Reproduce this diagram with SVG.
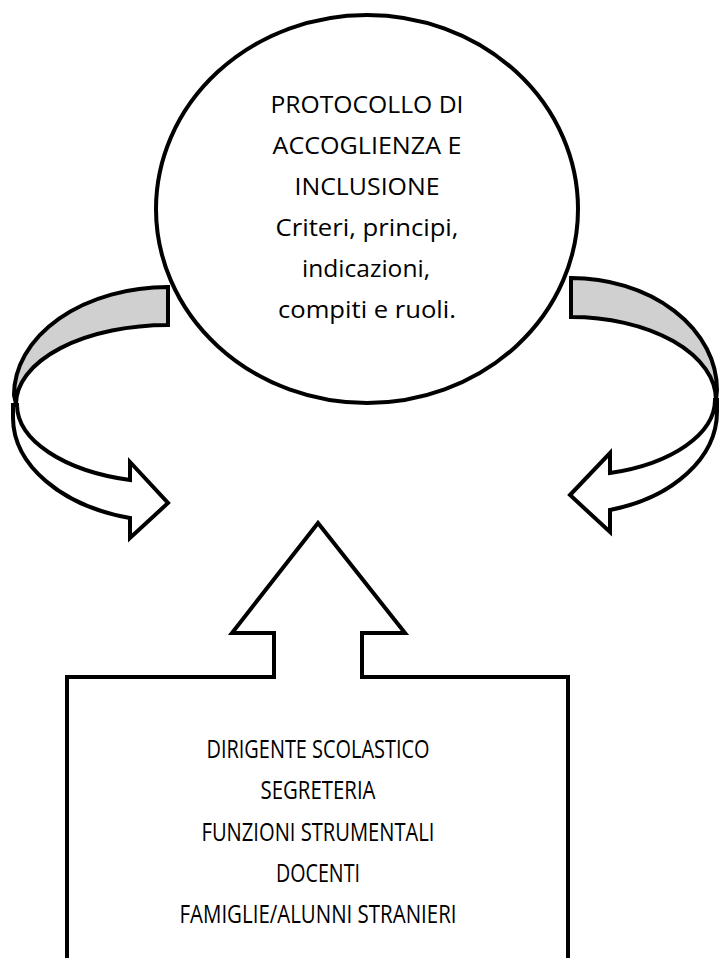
<svg xmlns="http://www.w3.org/2000/svg" width="720" height="958" viewBox="0 0 720 958">
<style>
.ln{stroke:#000;stroke-width:4;stroke-linejoin:miter;}
.back{fill:#d0d0d0;}
.front{fill:#fff;}
.t{font-family:"Open Sans","Liberation Sans",sans-serif;font-size:23px;fill:#000;text-anchor:middle;}
.b{font-size:25px;}
</style>
<rect width="720" height="958" fill="#fff"/>
<g id="connectors">
  <g id="curved-left">
    <path class="ln back" d="M168,287 A154,108 0 0 0 14,395 L16,404 A152,79 0 0 1 168,325 Z"/>
    <path class="ln front" d="M13,405 L13,418 A157,104 0 0 0 130,518 L130,538 L168,503 L130,462 L130,480 A153,78 0 0 1 17,405 Z"/>
  </g>
  <g id="curved-right">
    <path class="ln back" d="M571,278 A146,112 0 0 1 717,390 L716,400 A145,83 0 0 0 571,317 Z"/>
    <path class="ln front" d="M717,400 L717,412 A146,102 0 0 1 610,510 L610,532 L570,495 L610,453 L610,473 A144,76 0 0 0 715,400 Z"/>
  </g>
</g>
<g id="protocollo">
  <ellipse class="ln" cx="367" cy="209" rx="211" ry="194" fill="#fff" stroke-width="3.5"/>
  <text class="t" x="367" y="113" textLength="193" lengthAdjust="spacingAndGlyphs">PROTOCOLLO DI</text>
  <text class="t" x="367" y="154" textLength="189" lengthAdjust="spacingAndGlyphs">ACCOGLIENZA E</text>
  <text class="t" x="367" y="195" textLength="145" lengthAdjust="spacingAndGlyphs">INCLUSIONE</text>
  <text class="t" x="367" y="236" textLength="183" lengthAdjust="spacingAndGlyphs">Criteri, principi,</text>
  <text class="t" x="366" y="277" textLength="128" lengthAdjust="spacingAndGlyphs">indicazioni,</text>
  <text class="t" x="367" y="318" textLength="178" lengthAdjust="spacingAndGlyphs">compiti e ruoli.</text>
</g>
<g id="attori">
  <path class="ln" fill="#fff" d="M67,966 L67,677 L274,677 L274,633 L232,633 L318,523 L405,633 L362,633 L362,677 L568,677 L568,966 Z"/>
  <text class="t b" x="318" y="758" textLength="223" lengthAdjust="spacingAndGlyphs">DIRIGENTE SCOLASTICO</text>
  <text class="t b" x="318" y="799" textLength="115" lengthAdjust="spacingAndGlyphs">SEGRETERIA</text>
  <text class="t b" x="318" y="841" textLength="233" lengthAdjust="spacingAndGlyphs">FUNZIONI STRUMENTALI</text>
  <text class="t b" x="318" y="882" textLength="84" lengthAdjust="spacingAndGlyphs">DOCENTI</text>
  <text class="t b" x="318" y="923" textLength="277" lengthAdjust="spacingAndGlyphs">FAMIGLIE/ALUNNI STRANIERI</text>
</g>
</svg>
